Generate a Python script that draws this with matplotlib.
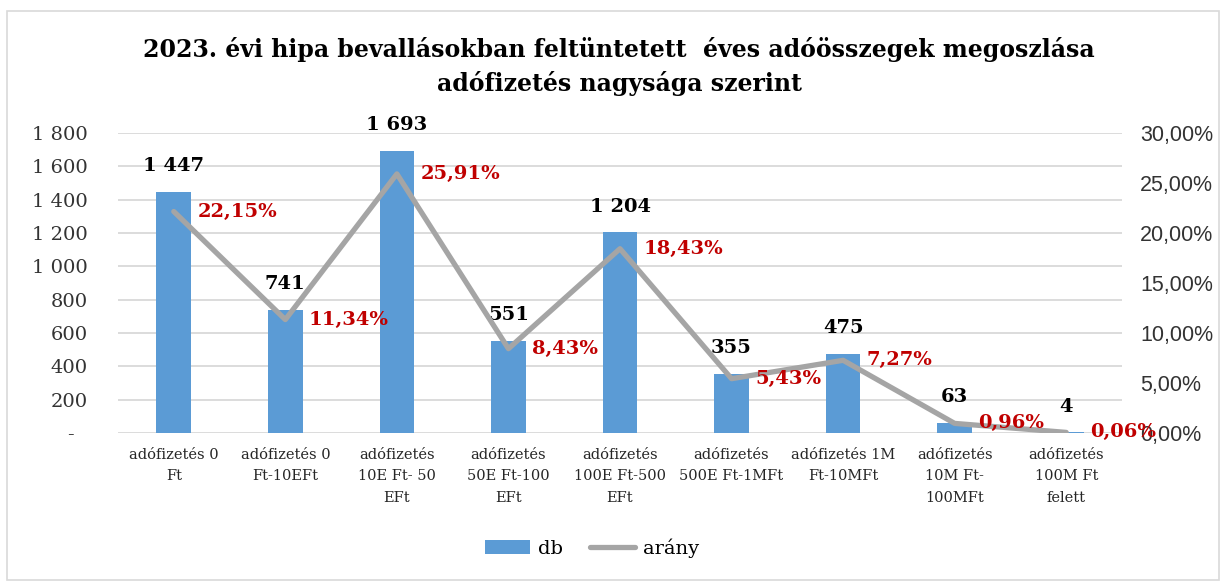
import numpy as np
import matplotlib.pyplot as plt
from matplotlib.patches import Rectangle
from matplotlib.ticker import FuncFormatter

# adatok
kategoriak = ["adófizetés 0\nFt", "adófizetés 0\nFt-10EFt", "adófizetés\n10E Ft- 50\nEFt",
              "adófizetés\n50E Ft-100\nEFt", "adófizetés\n100E Ft-500\nEFt", "adófizetés\n500E Ft-1MFt",
              "adófizetés 1M\nFt-10MFt", "adófizetés\n10M Ft-\n100MFt", "adófizetés\n100M Ft\nfelett"]
db = [1447, 741, 1693, 551, 1204, 355, 475, 63, 4]
arany = [22.15, 11.34, 25.91, 8.43, 18.43, 5.43, 7.27, 0.96, 0.06]

cim = "2023. évi hipa bevallásokban feltüntetett  éves adóösszegek megoszlása\nadófizetés nagysága szerint"

serif = "DejaVu Serif"

fig = plt.figure(figsize=(12.26, 5.83), dpi=100)
ax = fig.add_axes([118 / 1226, 1 - 433 / 583, (1122 - 118) / 1226, 300 / 583])
ax2 = ax.twinx()

x = np.arange(len(db))
ax.bar(x, db, width=0.31, color='#5B9BD5', zorder=2, label='db')
ax2.plot(x, arany, color='#A5A5A5', linewidth=3.8, solid_capstyle='round', zorder=3, label='arány')

ax.set_xlim(-0.5, len(db) - 0.5)
ax.set_ylim(0, 1800)
ax2.set_ylim(0, 30)
ax.set_yticks(np.arange(0, 1801, 200))
ax2.set_yticks(np.arange(0, 31, 5))

def fmt_db(v, pos):
    if v == 0:
        return "-  "
    return f"{int(v):,}".replace(",", " ")

ax.yaxis.set_major_formatter(FuncFormatter(fmt_db))
ax2.yaxis.set_major_formatter(FuncFormatter(lambda v, p: f"{v:.2f}%".replace(".", ",")))

ax.grid(axis='y', color='#D9D9D9', linewidth=1.3, zorder=0)
ax.set_axisbelow(True)
for a in (ax, ax2):
    for s in a.spines.values():
        s.set_visible(False)
    a.tick_params(length=0)

ax.set_xticks(x)
ax.set_xticklabels(kategoriak, fontsize=10.5, family=serif, linespacing=1.65, va='top', color='#262626')
ax.tick_params(axis='x', pad=11)
ax.tick_params(axis='y', pad=22, labelsize=14, labelcolor='#333333')
for t in ax.get_yticklabels():
    t.set_family(serif)
ax2.tick_params(axis='y', pad=13, labelsize=15.5, labelcolor='#333333')
for t in ax2.get_yticklabels():
    t.set_family("Liberation Sans")

# adatcimkek
for i, v in enumerate(db):
    ax.annotate(fmt_db(v, 0), (i, v), xytext=(0, 12), textcoords='offset points',
                ha='center', va='bottom', fontsize=14, fontweight='bold', family=serif, color='black')
for i, p in enumerate(arany):
    ax2.annotate(f"{p:.2f}%".replace(".", ","), (i, p), xytext=(17, 0), textcoords='offset points',
                 ha='left', va='center', fontsize=14, fontweight='bold', family=serif, color='#C00000',
                 zorder=5)

fig.suptitle(cim, x=0.505, y=1 - 37 / 583, fontsize=17, fontweight='bold', family=serif, linespacing=1.45)

h1, l1 = ax.get_legend_handles_labels()
h2, l2 = ax2.get_legend_handles_labels()
fig.legend(h1 + h2, l1 + l2, loc='center', bbox_to_anchor=(592 / 1226, 1 - 548 / 583), ncol=2, frameon=False,
           prop={'family': serif, 'size': 14}, handlelength=2.3, columnspacing=1.4, handletextpad=0.4)

fig.patches.append(Rectangle((7 / 1226, 3 / 583), 1212 / 1226, 569 / 583, transform=fig.transFigure,
                             fill=False, edgecolor='#D9D9D9', linewidth=1.2))

fig.savefig('out.png', dpi=100, facecolor='white')
